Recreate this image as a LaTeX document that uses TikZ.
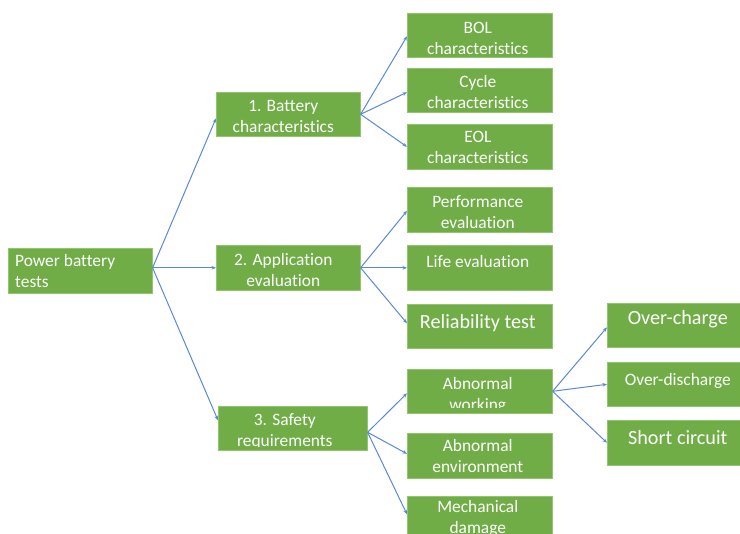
\documentclass[tikz,border=0pt]{standalone}
\usepackage{fontspec}
\setmainfont{Carlito}[Ligatures=NoCommon]
\usetikzlibrary{arrows.meta}
\definecolor{boxgreen}{HTML}{70AD47}
\definecolor{boxedge}{HTML}{92C56E}
\definecolor{linkblue}{HTML}{5A88D8}

\begin{document}
\begin{tikzpicture}[x=1pt,y=-1pt,
  box/.style={fill=boxgreen, draw=boxedge, line width=0.6pt, inner sep=0pt,
    minimum width=145pt, minimum height=44pt, anchor=north west},
  small/.style={font=\fontsize{17.4}{21}\selectfont, text=white, inner sep=0pt,
    anchor=north, align=center},
  big/.style={font=\fontsize{20.2}{24}\selectfont, text=white, inner sep=0pt,
    anchor=north, align=center},
  link/.style={draw=linkblue, line width=1pt, -{Stealth[length=4.5pt,width=3.6pt]}}
]
\useasboundingbox (0,0) rectangle (740,534);
\clip (0,0) rectangle (740,534);

% ---- boxes ----
\node[box, minimum width=144pt, minimum height=45pt] (pbt) at (8,248) {};
\node[box, minimum width=144pt] (b1) at (216,92) {};
\node[box, minimum width=144pt, minimum height=45pt] (b2) at (216,245) {};
\node[box, minimum width=149pt] (b3) at (218,406) {};

\node[box] (bol)  at (407,13)  {};
\node[box] (cyc)  at (407,68)  {};
\node[box, minimum height=45pt] (eol)  at (407,124) {};
\node[box, minimum height=45pt] (perf) at (407,187) {};
\node[box, minimum height=45pt] (life) at (407,245) {};
\node[box] (rel)  at (407,304) {};
\node[box] (abw)  at (407,369) {};
\node[box, minimum height=45pt] (abe)  at (407,433) {};
\node[box] (mech) at (407,496) {};

\node[box] (ovc) at (607,303) {};
\node[box] (ovd) at (607,362) {};
\node[box, minimum height=45pt] (sc)  at (607,420) {};

% ---- connectors ----
\draw[link] ([yshift=3pt]pbt.east) -- ([yshift=-4pt]b1.west);
\draw[link] ([yshift=3pt]pbt.east) -- (b2.west);
\draw[link] ([yshift=3pt]pbt.east) -- ([yshift=8pt]b3.west);

\draw[link] (b1.east) -- ([yshift=-1pt]bol.west);
\draw[link] (b1.east) -- ([yshift=-2pt]cyc.west);
\draw[link] (b1.east) -- (eol.west);

\draw[link] (b2.east) -- ([yshift=-1pt]perf.west);
\draw[link] (b2.east) -- (life.west);
\draw[link] (b2.east) -- ([yshift=3pt]rel.west);

\draw[link] ([yshift=-4pt]b3.east) -- ([yshift=-2pt]abw.west);
\draw[link] ([yshift=-4pt]b3.east) -- ([yshift=2pt]abe.west);
\draw[link] ([yshift=-4pt]b3.east) -- ([yshift=4pt]mech.west);

\draw[link] (abw.east) -- ([yshift=-2pt]ovc.west);
\draw[link] (abw.east) -- (ovd.west);
\draw[link] (abw.east) -- (sc.west);

% ---- labels ----
\node[small, anchor=north west, align=left] (tpbt) at ([xshift=7pt,yshift=-3.5pt]pbt.north west)
  {\strut Power battery\\tests};
\node[small] (tb1) at ([xshift=-5pt,yshift=-4.5pt]b1.north) {\strut 1. Battery\\characteristics};
\node[small] (tb2) at ([xshift=-5pt,yshift=-6pt]b2.north) {\strut 2. Application\\evaluation};
\begin{scope}
  \clip (b3.north west) rectangle ([yshift=4pt]b3.south east);
  \node[small] (tb3) at ([xshift=-8pt,yshift=-4.5pt]b3.north) {\strut 3. Safety\\requirements};
\end{scope}

\node[small] (tbol)  at ([xshift=-2pt,yshift=-5.5pt]bol.north)  {\strut BOL\\characteristics};
\node[small] (tcyc)  at ([xshift=-2pt,yshift=-4.5pt]cyc.north)  {\strut Cycle\\characteristics};
\node[small] (teol)  at ([xshift=-2pt,yshift=-4pt]eol.north)    {\strut EOL\\characteristics};
\node[small] (tperf) at ([xshift=-2pt,yshift=-6pt]perf.north)   {\strut Performance\\evaluation};
\node[small] (tlife) at ([xshift=-2pt,yshift=-8pt]life.north)   {\strut Life evaluation};
\node[big]   (trel)  at ([xshift=-2pt,yshift=-8pt]rel.north)    {\strut Reliability test};
\begin{scope}
  \clip (abw.north west) rectangle ([yshift=6pt]abw.south east);
  \node[small] (tabw) at ([xshift=-2pt,yshift=-6pt]abw.north) {\strut Abnormal\\working};
\end{scope}
\node[small] (tabe)  at ([xshift=-2pt,yshift=-4pt]abe.north)    {\strut Abnormal\\environment};
\node[small] (tmech) at ([xshift=-2pt,yshift=-1.5pt]mech.north) {\strut Mechanical\\damage};

\node[big]   (tovc) at ([xshift=-2pt,yshift=-4.5pt]ovc.north) {\strut Over-charge};
\node[small] (tovd) at ([xshift=-2pt,yshift=-9pt]ovd.north)   {\strut Over-discharge};
\node[big]   (tsc)  at ([xshift=-2pt,yshift=-8pt]sc.north)    {\strut Short circuit};
\end{tikzpicture}
\end{document}
